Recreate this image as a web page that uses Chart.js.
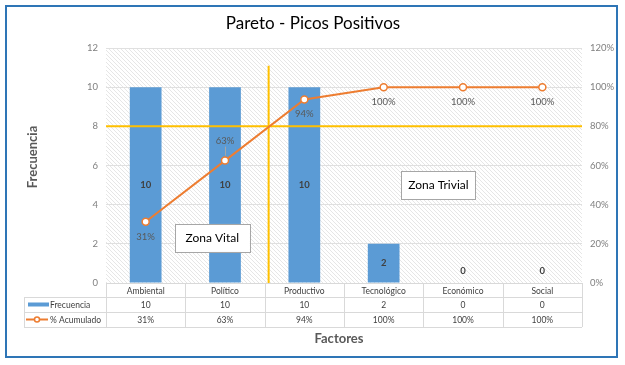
<!DOCTYPE html>
<html>
<head>
<meta charset="utf-8">
<script src="https://cdn.jsdelivr.net/npm/chart.js@4"></script>
<style>
  body { margin: 0; background: #fff; }
  #wrap { width: 625px; height: 365px; }
</style>
</head>
<body>
<div id="wrap"><canvas id="pareto" width="625" height="365"></canvas></div>
<script>
const categorias = ["Ambiental", "Político", "Productivo", "Tecnológico", "Económico", "Social"];
const frecuencia = [10, 10, 10, 2, 0, 0];
const acumulado = [31.25, 62.5, 93.75, 100, 100, 100]; // %
const ticksFrecuencia = [0, 2, 4, 6, 8, 10, 12];
const ticksPorcentaje = [0, 20, 40, 60, 80, 100, 120];
const limitePareto = 80; // linea 80%

const azul = "#5B9BD5";
const naranja = "#ED7D31";
const amarillo = "#FFC000";
const gris = "#595959";
const fuente = "Lato, 'Open Sans', sans-serif";

Chart.defaults.font.family = fuente;

function patron(ctx) {
    const c = document.createElement("canvas");
    c.width = c.height = 4;
    const p = c.getContext("2d");
    p.fillStyle = "#ffffff";
    p.fillRect(0, 0, 4, 4);
    p.fillStyle = "#e6e6e6";
    for (let i = 0; i < 4; i++) p.fillRect(i, i, 1, 1);
    return ctx.createPattern(c, "repeat");
}

function caja(ctx, cx, cy, w, h, texto) {
    ctx.fillStyle = "#fff";
    ctx.fillRect(cx - w / 2, cy - h / 2, w, h);
    ctx.strokeStyle = "#a6a6a6";
    ctx.lineWidth = 1;
    ctx.strokeRect(Math.round(cx - w / 2) + 0.5, Math.round(cy - h / 2) + 0.5, w, h);
    ctx.fillStyle = "#000";
    ctx.font = "12px " + fuente;
    ctx.textAlign = "center";
    ctx.textBaseline = "middle";
    ctx.fillText(texto, cx, cy);
}

const paretoPlugin = {
    id: "paretoExtras",
    beforeDraw(chart) {
        const { ctx, chartArea: a } = chart;
        ctx.save();
        ctx.fillStyle = "#fff";
        ctx.fillRect(0, 0, chart.width, chart.height);
        ctx.fillStyle = patron(ctx);
        ctx.fillRect(a.left, a.top, a.right - a.left, a.bottom - a.top);
        ctx.restore();
    },
    beforeDatasetDraw(chart, args) {
        if (args.index !== 1) return;
        const { ctx, chartArea: a, scales } = chart;
        ctx.save();
        ctx.strokeStyle = amarillo;
        ctx.lineWidth = 2;
        const y80 = scales.y1.getPixelForValue(limitePareto);
        ctx.beginPath();
        ctx.moveTo(a.left, y80);
        ctx.lineTo(a.right, y80);
        const xv = scales.x.getPixelForValue(1.55);
        ctx.moveTo(xv, scales.y.getPixelForValue(11.1));
        ctx.lineTo(xv, a.bottom);
        ctx.stroke();
        ctx.restore();
    },
    afterDraw(chart) {
        const { ctx, chartArea: a, scales } = chart;
        ctx.save();

        // etiquetas de barras
        const barras = chart.getDatasetMeta(0).data;
        ctx.font = "bold 9.5px " + fuente;
        ctx.fillStyle = "#404040";
        ctx.textAlign = "center";
        ctx.textBaseline = "middle";
        barras.forEach((el, i) => {
            const y = frecuencia[i] === 0 ? el.base - 12 : (el.y + el.base) / 2;
            ctx.fillText(String(frecuencia[i]), el.x, y);
        });

        // etiquetas de la linea
        const puntos = chart.getDatasetMeta(1).data;
        ctx.font = "9.5px " + fuente;
        ctx.fillStyle = gris;
        puntos.forEach((el, i) => {
            const txt = Math.round(acumulado[i]) + "%";
            if (i === 1) {
                ctx.fillText(txt, el.x, el.y - 20);
                ctx.strokeStyle = "#a6a6a6";
                ctx.lineWidth = 1;
                ctx.beginPath();
                ctx.moveTo(el.x + 0.5, el.y - 14);
                ctx.lineTo(el.x + 0.5, el.y - 5);
                ctx.stroke();
            } else {
                ctx.fillText(txt, el.x, el.y + 15);
            }
        });

        // cajas de zona
        caja(ctx, scales.x.getPixelForValue(0.84), scales.y.getPixelForValue(2.3), 75, 28, "Zona Vital");
        caja(ctx, scales.x.getPixelForValue(3.69), scales.y.getPixelForValue(5), 74, 28, "Zona Trivial");

        // tabla de datos
        const n = categorias.length;
        const w = (a.right - a.left) / n;
        const t0 = a.bottom, t1 = t0 + 14, t2 = t1 + 15, t3 = t2 + 15;
        const izq = 24;
        ctx.strokeStyle = "#d9d9d9";
        ctx.lineWidth = 1;
        ctx.beginPath();
        [t0, t1].forEach(y => { ctx.moveTo(a.left, y + 0.5); ctx.lineTo(a.right, y + 0.5); });
        [t1, t2, t3].forEach(y => { ctx.moveTo(izq, y + 0.5); ctx.lineTo(a.right, y + 0.5); });
        ctx.moveTo(izq + 0.5, t1); ctx.lineTo(izq + 0.5, t3);
        for (let i = 0; i <= n; i++) {
            const x = Math.round(a.left + i * w) + 0.5;
            ctx.moveTo(x, t0); ctx.lineTo(x, t3);
        }
        ctx.stroke();

        ctx.font = "8.5px " + fuente;
        ctx.fillStyle = "#404040";
        ctx.textAlign = "center";
        categorias.forEach((c, i) => {
            const cx = a.left + (i + 0.5) * w;
            ctx.fillText(c, cx, (t0 + t1) / 2 + 1);
            ctx.fillText(String(frecuencia[i]), cx, (t1 + t2) / 2 + 1);
            ctx.fillText(Math.round(acumulado[i]) + "%", cx, (t2 + t3) / 2 + 1);
        });

        // leyenda en la tabla
        ctx.fillStyle = azul;
        ctx.fillRect(28, (t1 + t2) / 2 - 2, 21, 4);
        ctx.strokeStyle = naranja;
        ctx.lineWidth = 2;
        ctx.beginPath();
        ctx.moveTo(26, (t2 + t3) / 2);
        ctx.lineTo(48, (t2 + t3) / 2);
        ctx.stroke();
        ctx.fillStyle = "#fff";
        ctx.lineWidth = 1.5;
        ctx.beginPath();
        ctx.arc(37, (t2 + t3) / 2, 2.5, 0, Math.PI * 2);
        ctx.fill();
        ctx.stroke();
        ctx.fillStyle = "#404040";
        ctx.textAlign = "left";
        ctx.fillText("Frecuencia", 50, (t1 + t2) / 2 + 1);
        ctx.fillText("% Acumulado", 50, (t2 + t3) / 2 + 1);

        // titulos
        ctx.textAlign = "center";
        ctx.fillStyle = "#000";
        ctx.font = "17px " + fuente;
        ctx.fillText("Pareto - Picos Positivos", 313, 24);

        ctx.fillStyle = gris;
        ctx.font = "bold 13px " + fuente;
        ctx.fillText("Factores", 339, 339);
        ctx.save();
        ctx.translate(33, 157);
        ctx.rotate(-Math.PI / 2);
        ctx.fillText("Frecuencia", 0, 0);
        ctx.restore();

        // borde
        ctx.strokeStyle = "#2E75B6";
        ctx.lineWidth = 2;
        ctx.strokeRect(6, 6, 611, 351);
        ctx.restore();
    }
};

const ctx = document.getElementById("pareto").getContext("2d");

new Chart(ctx, {
    data: {
        labels: categorias,
        datasets: [
            {
                type: "bar",
                label: "Frecuencia",
                data: frecuencia,
                yAxisID: "y",
                backgroundColor: azul,
                categoryPercentage: 1,
                barPercentage: 0.4,
                order: 2
            },
            {
                type: "line",
                label: "% Acumulado",
                data: acumulado,
                yAxisID: "y1",
                borderColor: naranja,
                borderWidth: 2,
                pointRadius: 3.5,
                pointBorderWidth: 1.5,
                pointBackgroundColor: "#fff",
                pointBorderColor: naranja,
                tension: 0,
                order: 1
            }
        ]
    },
    options: {
        responsive: false,
        animation: false,
        layout: { padding: { top: 48, bottom: 82, left: 0, right: 0 } },
        plugins: {
            legend: { display: false },
            title: { display: false },
            tooltip: { enabled: false }
        },
        scales: {
            x: { display: false },
            y: {
                position: "left",
                min: 0,
                max: 12,
                afterFit: s => { s.width = 106; },
                afterBuildTicks: s => { s.ticks = ticksFrecuencia.map(v => ({ value: v })); },
                ticks: { color: "#7f7f7f", font: { size: 9.5 }, padding: 8 },
                grid: { color: "#e0e0e0", drawTicks: false },
                border: { display: false }
            },
            y1: {
                position: "right",
                min: 0,
                max: 120,
                afterFit: s => { s.width = 43; },
                afterBuildTicks: s => { s.ticks = ticksPorcentaje.map(v => ({ value: v })); },
                ticks: { color: "#7f7f7f", font: { size: 9.5 }, padding: 8, callback: v => v + "%" },
                grid: { display: false, drawTicks: false },
                border: { display: false }
            }
        }
    },
    plugins: [paretoPlugin]
});
</script>
</body>
</html>
